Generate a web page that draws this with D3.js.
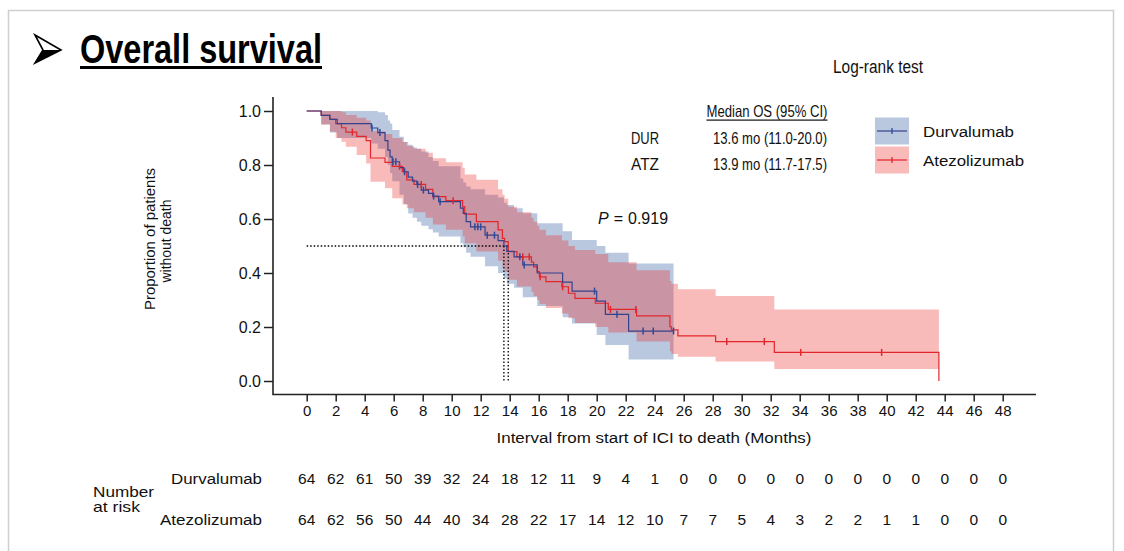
<!DOCTYPE html>
<html>
<head>
<meta charset="utf-8">
<script src="https://cdn.jsdelivr.net/npm/d3@7"></script>
<style>
  body { margin: 0; background: #fff; }
  svg { display: block; }
</style>
</head>
<body>
<script>
// ---- data ----
const monthTicks = [0, 2, 4, 6, 8, 10, 12, 14, 16, 18, 20, 22, 24, 26, 28, 30, 32, 34, 36, 38, 40, 42, 44, 46, 48];
const survTicks = [0, 0.2, 0.4, 0.6, 0.8, 1.0];

// Durvalumab (blue)
const durTimes = [0, 1.0, 1.6, 2.1, 4.45, 4.9, 5.4, 5.6, 5.75, 5.9, 6.4, 6.7, 7.0, 7.3, 7.6, 7.9, 8.4, 8.7, 9.1, 10.6, 10.8, 11.0, 11.3, 12.3, 13.2, 13.6, 13.8, 14.3, 14.9, 15.9, 17.65, 18.3, 20.0, 20.6, 22.2];
const durSurv = [1, 0.984, 0.969, 0.953, 0.937, 0.92, 0.89, 0.855, 0.83, 0.812, 0.79, 0.775, 0.755, 0.74, 0.728, 0.707, 0.695, 0.685, 0.664, 0.64, 0.621, 0.59, 0.571, 0.54, 0.52, 0.50, 0.48, 0.46, 0.43, 0.40, 0.366, 0.333, 0.296, 0.247, 0.185];
const durLower = [1, 0.95, 0.92, 0.9, 0.88, 0.86, 0.83, 0.8, 0.77, 0.74, 0.69, 0.655, 0.62, 0.605, 0.59, 0.575, 0.562, 0.55, 0.535, 0.51, 0.495, 0.475, 0.46, 0.425, 0.4, 0.38, 0.36, 0.345, 0.31, 0.278, 0.236, 0.213, 0.17, 0.133, 0.08];
const durUpper = [1, 1, 1, 1, 1, 0.995, 0.985, 0.965, 0.954, 0.93, 0.905, 0.885, 0.875, 0.865, 0.86, 0.85, 0.83, 0.815, 0.795, 0.75, 0.735, 0.72, 0.71, 0.69, 0.68, 0.66, 0.652, 0.64, 0.621, 0.584, 0.555, 0.522, 0.5, 0.475, 0.435];
const durCensor = [4.5, 5.05, 5.95, 6.15, 6.75, 7.65, 8.05, 8.75, 9.2, 11.6, 11.8, 12.0, 12.45, 12.95, 14.7, 15.0, 19.85, 21.4, 23.2, 23.9, 25.3];
const durEnd = 25.3;

// Atezolizumab (red)
const atzTimes = [0, 1.0, 1.6, 2.0, 2.4, 2.7, 3.45, 4.1, 4.4, 5.4, 5.9, 6.6, 6.9, 7.4, 8.2, 8.7, 9.6, 10.75, 10.9, 11.7, 13.2, 13.5, 13.65, 13.9, 14.5, 15.5, 15.65, 15.9, 16.05, 16.5, 17.6, 18.05, 18.5, 19.9, 20.8, 22.75, 25.05, 25.15, 25.6, 28.2, 32.25, 43.6];
const atzSurv = [1, 0.984, 0.969, 0.953, 0.938, 0.922, 0.906, 0.89, 0.826, 0.81, 0.795, 0.775, 0.745, 0.728, 0.71, 0.683, 0.668, 0.646, 0.618, 0.59, 0.56, 0.528, 0.516, 0.479, 0.46, 0.44, 0.423, 0.405, 0.386, 0.368, 0.349, 0.325, 0.306, 0.288, 0.265, 0.241, 0.201, 0.189, 0.167, 0.146, 0.106, 0];
const atzLower = [1, 0.95, 0.923, 0.9, 0.886, 0.868, 0.837, 0.806, 0.738, 0.714, 0.677, 0.655, 0.64, 0.625, 0.605, 0.58, 0.56, 0.535, 0.51, 0.48, 0.445, 0.42, 0.405, 0.375, 0.35, 0.33, 0.315, 0.3, 0.285, 0.27, 0.25, 0.232, 0.215, 0.2, 0.18, 0.146, 0.11, 0.1, 0.09, 0.072, 0.044];
const atzUpper = [1, 1, 1, 1, 0.995, 0.985, 0.975, 0.965, 0.925, 0.915, 0.9, 0.885, 0.87, 0.86, 0.845, 0.825, 0.81, 0.79, 0.765, 0.745, 0.71, 0.69, 0.675, 0.645, 0.625, 0.605, 0.59, 0.575, 0.56, 0.54, 0.52, 0.5, 0.485, 0.47, 0.44, 0.41, 0.37, 0.36, 0.34, 0.315, 0.265];
const atzCensor = [3.15, 6.4, 7.9, 10.1, 14.9, 15.35, 16.1, 17.65, 20.95, 22.7, 28.97, 31.56, 34.07, 39.65];
const atzEnd = 43.6;

const riskDur = [64, 62, 61, 50, 39, 32, 24, 18, 12, 11, 9, 4, 1, 0, 0, 0, 0, 0, 0, 0, 0, 0, 0, 0, 0];
const riskAtz = [64, 62, 56, 50, 44, 40, 34, 28, 22, 17, 14, 12, 10, 7, 7, 5, 4, 3, 2, 2, 1, 1, 0, 0, 0];

const medianDur = 13.6, medianAtz = 13.9;

// ---- drawing ----
const FONT = "'Liberation Sans', Arial, Helvetica, sans-serif";
const BLUE_LINE = "#34428c", RED_LINE = "#e3262c";

const svg = d3.select("body").append("svg")
  .attr("width", 1124)
  .attr("height", 551)
  .style("font-family", FONT);

// slide frame
svg.append("rect")
  .attr("x", 8.5).attr("y", 10.5)
  .attr("width", 1105).attr("height", 600)
  .attr("fill", "none").attr("stroke", "#cfcfcf").attr("stroke-width", 1.5);

// title with arrow bullet
svg.append("path")
  .attr("d", "M35,35 L61,50 L35,63 L43,50 Z")
  .attr("fill", "#fff").attr("stroke", "#000").attr("stroke-width", 1.6).attr("stroke-linejoin", "miter");
svg.append("path")
  .attr("d", "M43,50 L61,50 L35,63 Z")
  .attr("fill", "#000");
svg.append("text")
  .attr("x", 80).attr("y", 63)
  .attr("font-size", 40).attr("font-weight", "bold")
  .attr("textLength", 242).attr("lengthAdjust", "spacingAndGlyphs")
  .text("Overall survival");
svg.append("rect")
  .attr("x", 80).attr("y", 66).attr("width", 242).attr("height", 3)
  .attr("fill", "#000");

const x = d3.scaleLinear().domain([0, 48]).range([306.7, 1002.7]);
const y = d3.scaleLinear().domain([0, 1]).range([381, 111]);

function bandPoints(times, lo, hi, tEnd) {
  const pts = lo.map((l, i) => ({ t: times[i], lo: l, hi: hi[i] }));
  pts.push({ t: tEnd, lo: lo[lo.length - 1], hi: hi[hi.length - 1] });
  return pts;
}
function curvePoints(times, surv, tEnd) {
  const pts = times.map((t, i) => ({ t: t, s: surv[i] }));
  if (tEnd > times[times.length - 1]) pts.push({ t: tEnd, s: surv[surv.length - 1] });
  return pts;
}
function survAt(times, surv, t) {
  return surv[d3.bisectRight(times, t) - 1];
}

const area = d3.area()
  .x(d => x(d.t)).y0(d => y(d.lo)).y1(d => y(d.hi))
  .curve(d3.curveStepAfter);
const line = d3.line()
  .x(d => x(d.t)).y(d => y(d.s))
  .curve(d3.curveStepAfter);

// confidence bands
svg.append("path")
  .datum(bandPoints(durTimes, durLower, durUpper, durEnd))
  .attr("d", area)
  .attr("fill", "rgb(70,110,170)").attr("fill-opacity", 0.38);
svg.append("path")
  .datum(bandPoints(atzTimes, atzLower, atzUpper, atzEnd))
  .attr("d", area)
  .attr("fill", "rgb(235,40,40)").attr("fill-opacity", 0.32);

// median dotted lines
const med = svg.append("g")
  .attr("stroke", "#000").attr("stroke-width", 1.3)
  .attr("stroke-dasharray", "1.5,2").attr("fill", "none");
med.append("line")
  .attr("x1", x(0)).attr("x2", x(medianAtz))
  .attr("y1", y(0.5)).attr("y2", y(0.5));
[medianDur, medianAtz].forEach(m => {
  med.append("line")
    .attr("x1", x(m)).attr("x2", x(m))
    .attr("y1", y(0.5)).attr("y2", y(0));
});

// survival curves
svg.append("path")
  .datum(curvePoints(atzTimes, atzSurv, atzEnd))
  .attr("d", line)
  .attr("fill", "none").attr("stroke", RED_LINE).attr("stroke-width", 1.2);
svg.append("path")
  .datum(curvePoints(durTimes, durSurv, durEnd))
  .attr("d", line)
  .attr("fill", "none").attr("stroke", BLUE_LINE).attr("stroke-width", 1.2);

// censor marks
svg.selectAll(".cens-atz")
  .data(atzCensor)
  .enter()
  .append("line")
    .attr("x1", d => x(d)).attr("x2", d => x(d))
    .attr("y1", d => y(survAt(atzTimes, atzSurv, d)) - 3.5)
    .attr("y2", d => y(survAt(atzTimes, atzSurv, d)) + 3.5)
    .attr("stroke", RED_LINE).attr("stroke-width", 1.5);
svg.selectAll(".cens-dur")
  .data(durCensor)
  .enter()
  .append("line")
    .attr("x1", d => x(d)).attr("x2", d => x(d))
    .attr("y1", d => y(survAt(durTimes, durSurv, d)) - 3.5)
    .attr("y2", d => y(survAt(durTimes, durSurv, d)) + 3.5)
    .attr("stroke", "#2c4a9c").attr("stroke-width", 1.5);

// axes
const yAxis = svg.append("g")
  .attr("transform", "translate(273,0)")
  .call(d3.axisLeft(y).tickValues(survTicks).tickFormat(d3.format(".1f")).tickSize(9).tickPadding(3));
yAxis.select(".domain").remove();
yAxis.selectAll(".tick line").attr("stroke", "#222").attr("stroke-width", 1.5);
yAxis.selectAll(".tick text").attr("font-family", FONT).attr("font-size", 16).attr("fill", "#111");

const xAxis = svg.append("g")
  .attr("transform", "translate(0,394.5)")
  .call(d3.axisBottom(x).tickValues(monthTicks).tickSize(7).tickPadding(4));
xAxis.select(".domain").remove();
xAxis.selectAll(".tick line").attr("stroke", "#222").attr("stroke-width", 1.5);
xAxis.selectAll(".tick text").attr("font-family", FONT).attr("font-size", 15).attr("fill", "#111");

svg.append("path")
  .attr("d", "M273,97 L273,394.5 L1036,394.5")
  .attr("fill", "none").attr("stroke", "#222").attr("stroke-width", 1.6);

// axis titles
svg.append("text")
  .attr("x", 654).attr("y", 443)
  .attr("text-anchor", "middle").attr("font-size", 15.5).attr("fill", "#111")
  .attr("textLength", 315).attr("lengthAdjust", "spacingAndGlyphs")
  .text("Interval from start of ICI to death (Months)");
svg.append("text")
  .attr("transform", "translate(155,239) rotate(-90)")
  .attr("text-anchor", "middle").attr("font-size", 15.5).attr("fill", "#111")
  .attr("textLength", 142).attr("lengthAdjust", "spacingAndGlyphs")
  .text("Proportion of patients");
svg.append("text")
  .attr("transform", "translate(171,241) rotate(-90)")
  .attr("text-anchor", "middle").attr("font-size", 15.5).attr("fill", "#111")
  .attr("textLength", 83).attr("lengthAdjust", "spacingAndGlyphs")
  .text("without death");

// annotations
svg.append("text")
  .attr("x", 833).attr("y", 73)
  .attr("font-size", 17.5).attr("fill", "#111")
  .attr("textLength", 90).attr("lengthAdjust", "spacingAndGlyphs")
  .text("Log-rank test");

svg.append("text")
  .attr("x", 706.5).attr("y", 117)
  .attr("font-size", 16.5).attr("fill", "#111")
  .attr("textLength", 121).attr("lengthAdjust", "spacingAndGlyphs")
  .text("Median OS (95% CI)");
svg.append("rect")
  .attr("x", 706.5).attr("y", 119.5).attr("width", 121).attr("height", 1.2)
  .attr("fill", "#111");

const medRows = [
  { lab: "DUR", txt: "13.6 mo (11.0-20.0)", yy: 144 },
  { lab: "ATZ", txt: "13.9 mo (11.7-17.5)", yy: 170 }
];
medRows.forEach(r => {
  svg.append("text")
    .attr("x", 631).attr("y", r.yy)
    .attr("font-size", 16.5).attr("fill", "#111")
    .attr("textLength", 28).attr("lengthAdjust", "spacingAndGlyphs")
    .text(r.lab);
  svg.append("text")
    .attr("x", 713).attr("y", r.yy)
    .attr("font-size", 16.5).attr("fill", "#111")
    .attr("textLength", 114).attr("lengthAdjust", "spacingAndGlyphs")
    .text(r.txt);
});

const pText = svg.append("text")
  .attr("x", 598).attr("y", 224)
  .attr("font-size", 16).attr("fill", "#111");
pText.append("tspan").attr("font-style", "italic").text("P");
pText.append("tspan").attr("dx", 5).text("=");
pText.append("tspan").attr("dx", 5).text("0.919");

// legend
const legend = [
  { name: "Durvalumab", fill: "rgb(70,110,170)", op: 0.38, stroke: BLUE_LINE, tick: "#2c4a9c", w: 91 },
  { name: "Atezolizumab", fill: "rgb(235,40,40)", op: 0.32, stroke: RED_LINE, tick: RED_LINE, w: 101 }
];
legend.forEach((d, i) => {
  const ly = 117.5 + i * 29;
  svg.append("rect")
    .attr("x", 875).attr("y", ly).attr("width", 34).attr("height", 27)
    .attr("fill", d.fill).attr("fill-opacity", d.op);
  svg.append("line")
    .attr("x1", 877).attr("x2", 907).attr("y1", ly + 13.5).attr("y2", ly + 13.5)
    .attr("stroke", d.stroke).attr("stroke-width", 1.2);
  svg.append("line")
    .attr("x1", 892).attr("x2", 892).attr("y1", ly + 10.5).attr("y2", ly + 16.5)
    .attr("stroke", d.tick).attr("stroke-width", 1.3);
  svg.append("text")
    .attr("x", 923).attr("y", ly + 19)
    .attr("font-size", 15.5).attr("fill", "#111")
    .attr("textLength", d.w).attr("lengthAdjust", "spacingAndGlyphs")
    .text(d.name);
});

// number at risk table
svg.append("text")
  .attr("x", 93).attr("y", 497)
  .attr("font-size", 15).attr("fill", "#111")
  .attr("textLength", 61).attr("lengthAdjust", "spacingAndGlyphs")
  .text("Number");
svg.append("text")
  .attr("x", 93).attr("y", 512)
  .attr("font-size", 15).attr("fill", "#111")
  .attr("textLength", 47).attr("lengthAdjust", "spacingAndGlyphs")
  .text("at risk");

const riskRows = [
  { name: "Durvalumab", vals: riskDur, yy: 483.5, w: 91 },
  { name: "Atezolizumab", vals: riskAtz, yy: 524.5, w: 102 }
];
riskRows.forEach(r => {
  svg.append("text")
    .attr("x", 262).attr("y", r.yy)
    .attr("text-anchor", "end").attr("font-size", 15.5).attr("fill", "#111")
    .attr("textLength", r.w).attr("lengthAdjust", "spacingAndGlyphs")
    .text(r.name);
  svg.selectAll(null)
    .data(r.vals)
    .enter()
    .append("text")
      .attr("x", (d, i) => x(monthTicks[i]))
      .attr("y", r.yy)
      .attr("text-anchor", "middle").attr("font-size", 15.5).attr("fill", "#111")
      .text(d => d);
});
</script>
</body>
</html>
